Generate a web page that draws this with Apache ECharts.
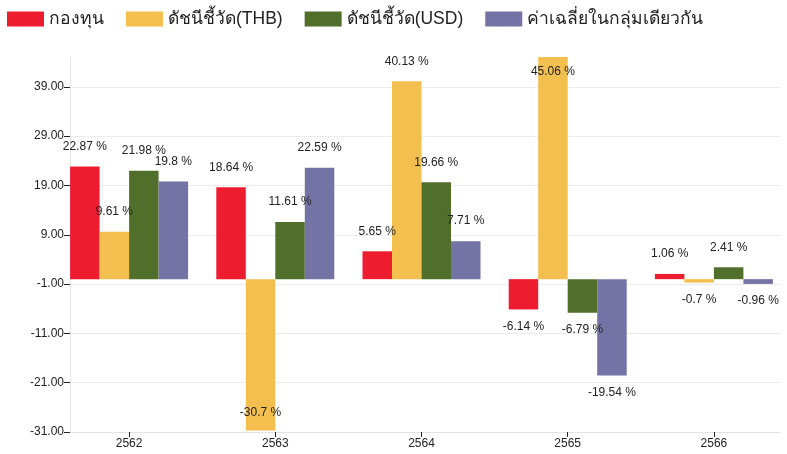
<!DOCTYPE html>
<html>
<head>
<meta charset="utf-8">
<script src="https://cdn.jsdelivr.net/npm/echarts@6/dist/echarts.min.js"></script>
<style>
  html, body { margin: 0; padding: 0; background: #fff; }
  #chart { width: 787px; height: 454px; }
</style>
</head>
<body>
<div id="chart"></div>
<script>
const years = ['2562', '2563', '2564', '2565', '2566'];
const seriesNames = ['กองทุน', 'ดัชนีชี้วัด(THB)', 'ดัชนีชี้วัด(USD)', 'ค่าเฉลี่ยในกลุ่มเดียวกัน'];
const fund = [22.87, 18.64, 5.65, -6.14, 1.06];
const benchThb = [9.61, -30.7, 40.13, 45.06, -0.7];
const benchUsd = [21.98, 11.61, 19.66, -6.79, 2.41];
const peerAvg = [19.8, 22.59, 7.71, -19.54, -0.96];
const colors = ['#ee1c2f', '#f3bf4f', '#506f2b', '#7473a6'];

const yMin = -31;
const yMax = 45.06;
const font = '"Liberation Sans", Arial, sans-serif';

const chart = echarts.init(document.getElementById('chart'), null, { renderer: 'canvas' });

// ป้ายค่าบนแท่ง: ค่าบวกอยู่บน ค่าลบอยู่ล่าง ถ้าล้นขอบให้อยู่ในแท่ง
function makeData(values) {
  return values.map(v => {
    let label;
    if (v > yMax - 3) label = { position: 'insideTop', distance: 9 };
    else if (v >= 0) label = { position: 'top', distance: 14 };
    else if (v < yMin + 3) label = { position: 'insideBottom', distance: 12 };
    else label = { position: 'bottom', distance: 11 };
    return { value: v, label: label };
  });
}

const allValues = [fund, benchThb, benchUsd, peerAvg];

const option = {
  animation: false,
  color: colors,
  legend: {
    left: 7,
    top: 10,
    padding: 0,
    itemWidth: 37,
    itemHeight: 15,
    itemGap: 22,
    icon: 'rect',
    textStyle: { fontSize: 17.5, color: '#222', fontFamily: font },
    data: seriesNames
  },
  grid: [
    { left: 70, right: 7, top: 57, bottom: 22 },
    { left: 56, width: 739, top: 57, bottom: 22 }
  ],
  xAxis: [
    {
      type: 'category',
      gridIndex: 0,
      data: years,
      axisLine: { onZero: false, lineStyle: { color: '#e3e3e3', width: 1 } },
      axisTick: { show: false },
      axisLabel: { show: false }
    },
    {
      type: 'category',
      gridIndex: 1,
      data: years,
      axisLine: { show: false, onZero: false },
      axisTick: { show: true, alignWithLabel: true, length: 5, lineStyle: { color: '#222' } },
      axisLabel: { color: '#222', fontSize: 12, fontFamily: font, margin: 6 }
    }
  ],
  yAxis: [
    {
      type: 'value',
      gridIndex: 0,
      min: yMin,
      max: yMax,
      interval: 10,
      axisLine: { show: true, lineStyle: { color: '#e3e3e3' } },
      axisTick: { show: true, length: 6, lineStyle: { color: '#222' } },
      axisLabel: {
        color: '#222',
        fontSize: 12,
        fontFamily: font,
        margin: 6,
        showMaxLabel: false,
        formatter: v => v.toFixed(2)
      },
      splitLine: { show: true, showMaxLine: false, lineStyle: { color: '#ebebeb' } }
    },
    {
      type: 'value',
      gridIndex: 1,
      min: yMin,
      max: yMax,
      show: false,
      splitLine: { show: false }
    }
  ],
  series: seriesNames.map((name, i) => ({
    name: name,
    type: 'bar',
    xAxisIndex: 1,
    yAxisIndex: 1,
    barWidth: 29.5,
    barGap: '0%',
    itemStyle: { color: colors[i] },
    label: {
      show: true,
      color: '#222',
      fontSize: 12,
      fontFamily: font,
      formatter: p => p.value + ' %'
    },
    data: makeData(allValues[i])
  }))
};

chart.setOption(option);
</script>
</body>
</html>
